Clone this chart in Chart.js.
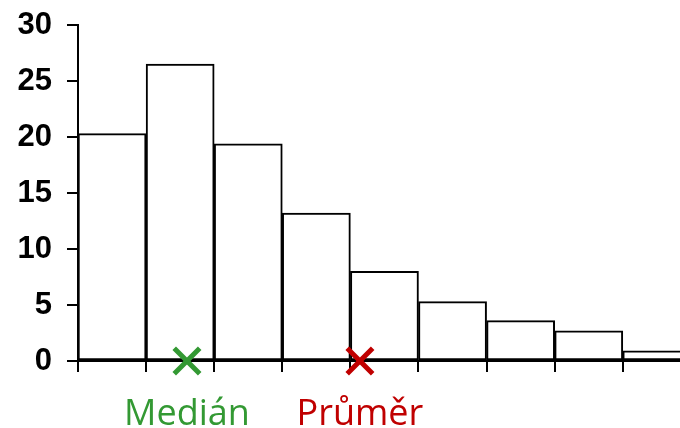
<!DOCTYPE html>
<html>
<head>
<meta charset="utf-8">
<script src="https://cdn.jsdelivr.net/npm/chart.js@4/dist/chart.umd.min.js"></script>
<style>
  html, body { margin: 0; padding: 0; background: #ffffff; }
  #wrap { width: 680px; height: 428px; }
</style>
</head>
<body>
<div id="wrap"><canvas id="c" width="680" height="428"></canvas></div>
<script>
// ---- data ----
const binEdges = [0, 1, 2, 3, 4, 5, 6, 7, 8, 9];
const counts = [20.3, 26.5, 19.4, 13.2, 8.0, 5.3, 3.6, 2.7, 0.9];
const yTicks = [0, 5, 10, 15, 20, 25, 30];
const medianValue = 1.6;
const meanValue = 4.14;
const markerLabels = ['Medián', 'Průměr'];
const markerColors = ['#339933', '#c00000'];
const xVisibleMax = 8.84;

const barData = counts.map((v, i) => ({ x: (binEdges[i] + binEdges[i + 1]) / 2, y: v }));

const labelPlugin = {
  id: 'markerLabels',
  afterDraw(chart) {
    const ctx = chart.ctx;
    const xs = chart.scales.x;
    const vals = [medianValue, meanValue];
    ctx.save();
    ctx.font = '36px "Open Sans"';
    ctx.textAlign = 'center';
    ctx.textBaseline = 'alphabetic';
    vals.forEach((v, i) => {
      ctx.fillStyle = markerColors[i];
      ctx.fillText(markerLabels[i], xs.getPixelForValue(v), 425);
    });
    ctx.restore();
  }
};

new Chart(document.getElementById('c'), {
  type: 'bar',
  data: {
    datasets: [
      {
        type: 'scatter',
        data: [{ x: medianValue, y: 0 }],
        pointStyle: 'crossRot',
        radius: 18,
        borderWidth: 5,
        borderColor: markerColors[0],
        backgroundColor: markerColors[0],
        clip: false,
        order: 0
      },
      {
        type: 'scatter',
        data: [{ x: meanValue, y: 0 }],
        pointStyle: 'crossRot',
        radius: 18,
        borderWidth: 5,
        borderColor: markerColors[1],
        backgroundColor: markerColors[1],
        clip: false,
        order: 0
      },
      {
        type: 'bar',
        data: barData,
        backgroundColor: '#ffffff',
        borderColor: '#000000',
        borderWidth: 2,
        borderSkipped: false,
        barPercentage: 1,
        categoryPercentage: 1,
        order: 1
      }
    ]
  },
  options: {
    responsive: false,
    animation: false,
    events: [],
    layout: { autoPadding: false, padding: { top: 25, right: 0, bottom: 0, left: 0 } },
    plugins: { legend: { display: false }, tooltip: { enabled: false } },
    scales: {
      x: {
        type: 'linear',
        offset: false,
        min: 0,
        max: xVisibleMax,
        afterBuildTicks(scale) {
          scale.ticks = binEdges.filter(v => v <= xVisibleMax).map(v => ({ value: v }));
        },
        afterFit(scale) { scale.height = 67; scale.paddingLeft = 0; scale.paddingRight = 0; },
        ticks: { display: false },
        grid: { offset: false, drawOnChartArea: false, drawTicks: true, tickLength: 11, color: '#000000', lineWidth: 2 },
        border: { display: true, color: '#000000', width: 2 }
      },
      y: {
        min: 0,
        max: 30,
        afterBuildTicks(scale) {
          scale.ticks = yTicks.map(v => ({ value: v }));
        },
        afterFit(scale) { scale.width = 78; scale.paddingTop = 0; scale.paddingBottom = 0; },
        ticks: {
          color: '#000000',
          padding: 15,
          font: { family: '"Liberation Sans", Arial, sans-serif', size: 31, weight: 'bold' }
        },
        grid: { drawOnChartArea: false, drawTicks: true, tickLength: 11, color: '#000000', lineWidth: 2 },
        border: { display: true, color: '#000000', width: 2 }
      }
    }
  },
  plugins: [labelPlugin]
});
</script>
</body>
</html>
